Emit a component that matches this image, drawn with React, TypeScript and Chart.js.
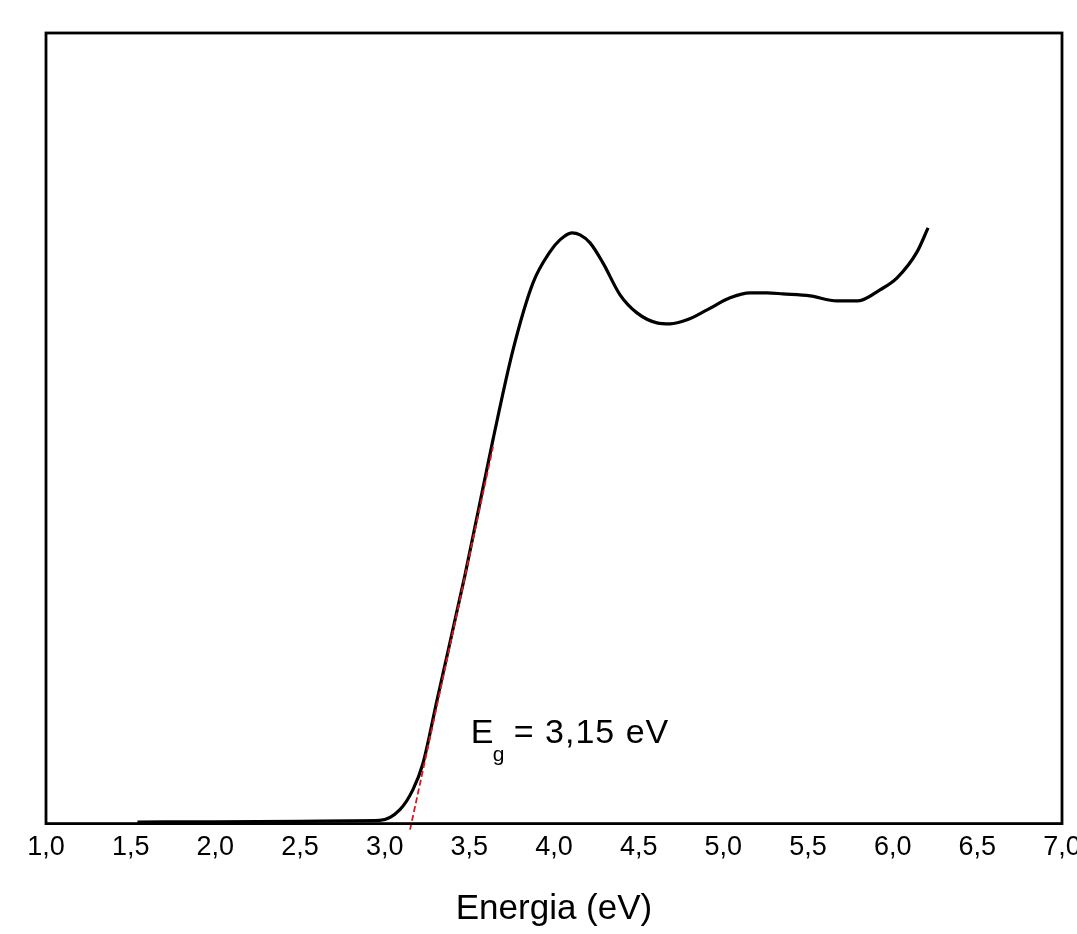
import React, { useEffect, useRef } from "react";
import { Chart, registerables } from "chart.js";

Chart.register(...registerables);

// Absorption spectrum (arbitrary units, 0-100 full scale)
const energy: number[] = [
  1.54, 2.0, 2.5, 2.8, 2.97, 3.09, 3.167, 3.226, 3.309, 3.474, 3.64, 3.758,
  3.876, 3.976, 4.035, 4.106, 4.154, 4.213, 4.289, 4.39, 4.49, 4.608, 4.685,
  4.786, 4.904, 5.04, 5.158, 5.258, 5.352, 5.512, 5.671, 5.795, 5.925, 6.026,
  6.144, 6.209,
];
const absorbance: number[] = [
  0.2, 0.22, 0.28, 0.35, 0.4, 1.77, 4.3, 7.6, 15.6, 31.4, 48.6, 59.92,
  68.39, 72.31, 73.83, 74.72, 74.46, 73.45, 70.92, 66.88, 64.6, 63.34, 63.21,
  63.72, 64.98, 66.5, 67.13, 67.13, 67.0, 66.75, 66.12, 66.12, 67.51, 69.03,
  72.31, 75.35,
];

// Linear fit (Tauc extrapolation) line
const fitX: number[] = [3.15, 3.64];
const fitY: number[] = [-0.76, 47.66];

const xTicks: number[] = [1.0, 1.5, 2.0, 2.5, 3.0, 3.5, 4.0, 4.5, 5.0, 5.5, 6.0, 6.5, 7.0];
const xTitle = "Energia (eV)";
const gapLabel = { main: "E", sub: "g", rest: "= 3,15 eV", x: 3.52, y: 10.24 };

const FONT = "'Liberation Sans', Arial, Helvetica, sans-serif";

export default function App() {
  const ref = useRef<HTMLCanvasElement | null>(null);

  useEffect(() => {
    if (!ref.current) return;
    const framePlugin = {
      id: "frame",
      afterDatasetsDraw(chart: any) {
        const { ctx, chartArea } = chart;
        ctx.save();
        ctx.strokeStyle = "#000";
        ctx.lineWidth = 2.8;
        ctx.strokeRect(
          chartArea.left,
          chartArea.top,
          chartArea.right - chartArea.left,
          chartArea.bottom - chartArea.top
        );
        ctx.restore();
      },
      afterDraw(chart: any) {
        const { ctx } = chart;
        const xs = chart.scales.x;
        const ys = chart.scales.y;
        const px = xs.getPixelForValue(gapLabel.x);
        const py = ys.getPixelForValue(gapLabel.y);
        ctx.save();
        ctx.fillStyle = "#000";
        ctx.textBaseline = "alphabetic";
        ctx.textAlign = "left";
        ctx.font = `34px ${FONT}`;
        ctx.fillText(gapLabel.main, px - 2, py);
        ctx.font = `21px ${FONT}`;
        ctx.fillText(gapLabel.sub, px + 20, py + 18);
        ctx.font = `34px ${FONT}`;
        try {
          (ctx as any).letterSpacing = "1px";
        } catch (e) {}
        ctx.fillText(gapLabel.rest, px + 41, py);
        ctx.restore();
      },
    };

    const chart = new Chart(ref.current, {
      type: "line",
      data: {
        datasets: [
          {
            label: "fit",
            data: fitX.map((x, i) => ({ x, y: fitY[i] })),
            borderColor: "#e0141c",
            borderWidth: 1.8,
            borderDash: [6, 3],
            pointRadius: 0,
            tension: 0,
            clip: false as any,
          },
          {
            label: "spectrum",
            data: energy.map((x, i) => ({ x, y: absorbance[i] })),
            borderColor: "#000",
            borderWidth: 3.2,
            pointRadius: 0,
            cubicInterpolationMode: "monotone",
          },
        ],
      },
      plugins: [framePlugin],
      options: {
        responsive: false,
        animation: false,
        layout: { padding: { left: 46, top: 33, right: 38, bottom: 4 } },
        plugins: {
          legend: { display: false },
          tooltip: { enabled: false },
        },
        scales: {
          x: {
            type: "linear",
            min: 1,
            max: 7,
            afterBuildTicks: (axis: any) => {
              axis.ticks = xTicks.map((v) => ({ value: v }));
            },
            grid: { display: false, drawTicks: false },
            border: { display: false },
            ticks: {
              color: "#000",
              padding: 8,
              maxRotation: 0,
              autoSkip: false,
              font: { family: FONT, size: 27 },
              callback: (v: any) => Number(v).toFixed(1).replace(".", ","),
            },
            title: {
              display: true,
              text: xTitle,
              color: "#000",
              font: { family: FONT, size: 35 },
              padding: { top: 16, bottom: 0 },
            },
          },
          y: {
            display: false,
            min: 0,
            max: 100,
          },
        },
      },
    });
    return () => chart.destroy();
  }, []);

  return (
    <div
      style={{
        position: "absolute",
        left: 0,
        top: 0,
        width: 1077,
        height: 934,
        overflow: "hidden",
        background: "#fff",
      }}
    >
      <canvas ref={ref} width={1100} height={934} style={{ display: "block" }} />
    </div>
  );
}
